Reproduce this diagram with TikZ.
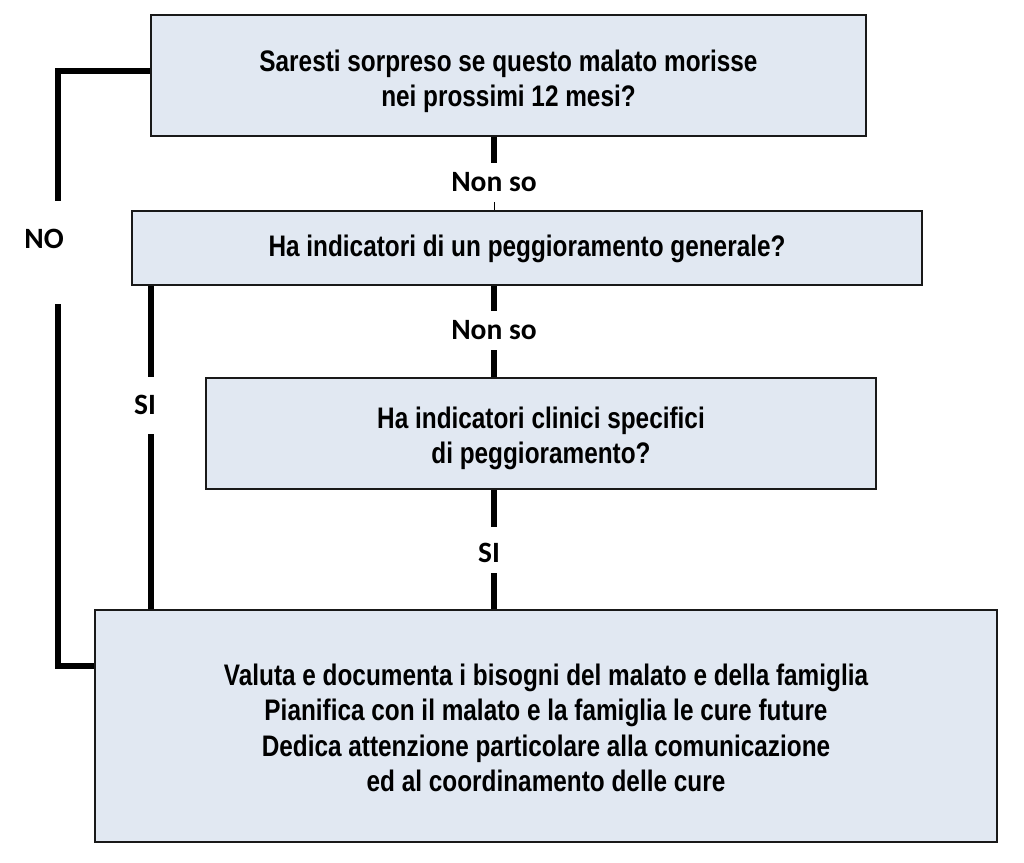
\documentclass[tikz,border=0pt]{standalone}
\usepackage{fontspec}
\newfontfamily\boxfont{Liberation Sans}[FakeStretch=0.82]
\newfontfamily\labfont{Carlito}
\definecolor{boxfill}{RGB}{225,232,242}
\definecolor{boxline}{RGB}{25,25,25}
\begin{document}
\begin{tikzpicture}[x=1pt,y=-1pt,
  qbox/.style={draw=boxline,line width=1.5pt,fill=boxfill,inner sep=0pt},
  qtext/.style={inner sep=0pt,align=center,
    font=\boxfont\bfseries\fontsize{29.7}{35.5}\selectfont},
  lab/.style={inner sep=0pt,font=\labfont\bfseries\fontsize{29.5}{32}\selectfont},
  conn/.style={line width=5.5pt,black},
  thin/.style={line width=1pt,black}]
\useasboundingbox (0,0) rectangle (1024,862);
\node[qbox,minimum width=715pt,minimum height=121pt] (b1) at (508.5,75.5) {};
\node[qtext] (t1) at ([yshift=-6pt]b1.center)
  {Saresti sorpreso se questo malato morisse\\nei prossimi 12 mesi?};
\node[qbox,minimum width=790pt,minimum height=74pt] (b2) at (527,248) {};
\node[qtext] (t2) at ([yshift=-1pt]b2.center)
  {Ha indicatori di un peggioramento generale?};
\node[qbox,minimum width=670pt,minimum height=111pt] (b3) at (541,433.5) {};
\node[qtext] (t3) at ([yshift=-5pt]b3.center)
  {Ha indicatori clinici specifici\\di peggioramento?};
\node[qbox,minimum width=902pt,minimum height=232pt] (b4) at (546,726) {};
\node[qtext] (t4) at ([yshift=-2pt]b4.center)
  {Valuta e documenta i bisogni del malato e della famiglia\\
   Pianifica con il malato e la famiglia le cure future\\
   Dedica attenzione particolare alla comunicazione\\
   ed al coordinamento delle cure};
% labels
\node[lab] (ns1) at (494,182) {Non so};
\node[lab] (ns2) at (494,330) {Non so};
\node[lab] (no) at (44,239) {NO};
\node[lab] (si1) at (145,405) {SI};
\node[lab] (si2) at (489,553) {SI};
% free-end coordinates
\coordinate (noA) at (58,71);
\coordinate (noB) at (58,201);
\coordinate (noC) at (58,304);
\coordinate (noD) at (58,666);
\coordinate (c1a) at (494,163);
\coordinate (c1b) at (494,202);
\coordinate (c2a) at (494,311);
\coordinate (c2b) at (494,350);
\coordinate (s1a) at (151,377);
\coordinate (s1b) at (151,434);
\coordinate (s2a) at (494,527);
\coordinate (s2b) at (494,573);
% connectors
\draw[conn] (b1.west |- noA) -- (noA) -- (noB);
\draw[conn] (noC) -- (noD) -- (b4.west |- noD);
\draw[conn] (b1.south -| c1a) -- (c1a);
\draw[thin] (c1b) -- (b2.north -| c1b);
\draw[conn] (b2.south -| c2a) -- (c2a);
\draw[conn] (c2b) -- (b3.north -| c2b);
\draw[conn] (b2.south -| s1a) -- (s1a);
\draw[conn] (s1b) -- (b4.north -| s1b);
\draw[conn] (b3.south -| s2a) -- (s2a);
\draw[conn] (s2b) -- (b4.north -| s2b);
\end{tikzpicture}
\end{document}
